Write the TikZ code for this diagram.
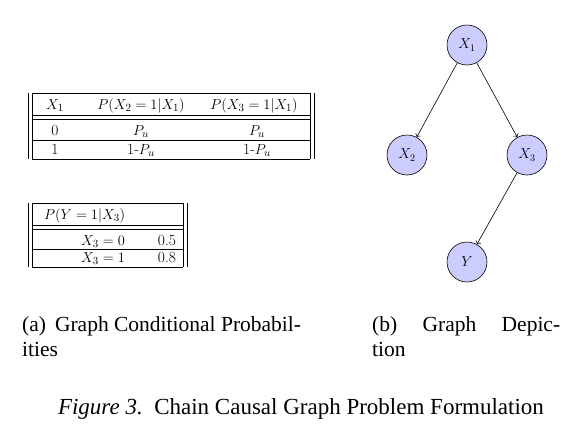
\documentclass[tikz,border=0pt]{standalone}
\usepackage{fontspec}
\newfontfamily\capfont{Liberation Serif}
\usetikzlibrary{arrows.meta}
\begin{document}
\begin{tikzpicture}[x=1pt,y=-1pt,
  tline/.style={line width=0.6pt},
  tcell/.style={inner sep=0pt, anchor=base, font=\fontsize{15.5}{18}\selectfont},
  gnode/.style={circle, draw, fill=blue!20, minimum size=40pt, inner sep=0pt, line width=0.6pt, font=\fontsize{14}{17}\selectfont},
  garrow/.style={-{To[length=3pt,width=6pt]}, line width=0.6pt},
  captext/.style={inner sep=0pt, font=\capfont\fontsize{21.5}{25}\selectfont},
  figcap/.style={inner sep=0pt, font=\capfont\fontsize{23}{27}\selectfont}
]
\useasboundingbox (0,0) rectangle (574,426);

% ---- table 1 ----
\draw[tline] (28,93) -- (28,159) (32,93) -- (32,159) (310,93) -- (310,159) (314,93) -- (314,159);
\draw[tline] (32,93) -- (310,93) (32,115) -- (310,115) (32,119) -- (310,119) (32,140) -- (310,140) (32,159) -- (310,159);
\node[tcell] (h1) at (55,109) {$X_1$};
\node[tcell] (h2) at (141,109) {$P(X_2 = 1|X_1)$};
\node[tcell] (h3) at (254,109) {$P(X_3 = 1|X_1)$};
\node[tcell] (a1) at (55,135) {0};
\node[tcell] (a2) at (141,135) {$P_u$};
\node[tcell] (a3) at (257,135) {$P_u$};
\node[tcell] (b1) at (55,154) {1};
\node[tcell] (b2) at (141,154) {1-$P_u$};
\node[tcell] (b3) at (257,154) {1-$P_u$};

% ---- table 2 ----
\draw[tline] (28,203) -- (28,267) (32,203) -- (32,267) (183,203) -- (183,267) (187,203) -- (187,267);
\draw[tline] (32,203) -- (183,203) (32,225) -- (183,225) (32,229) -- (183,229) (32,249) -- (183,249) (32,267) -- (183,267);
\node[tcell, anchor=base west] (yh) at (44,219) {$P(Y = 1|X_3)$};
\node[tcell] (c1) at (103,245) {$X_3 = 0$};
\node[tcell] (c2) at (167,245) {0.5};
\node[tcell] (d1) at (103,262) {$X_3 = 1$};
\node[tcell] (d2) at (167,262) {0.8};

% ---- graph ----
\node[gnode] (x1) at (467,45) {$X_1$};
\node[gnode] (x2) at (407,155) {$X_2$};
\node[gnode] (x3) at (527,155) {$X_3$};
\node[gnode] (y) at (467,262) {$Y$};
\draw[garrow] (x1) -- (x2);
\draw[garrow] (x1) -- (x3);
\draw[garrow] (x3) -- (y);

% ---- captions ----
\node[captext, anchor=base west] (ca1) at (22,331) {(a)\hspace{9pt}Graph Conditional Probabil-};
\node[captext, anchor=base west] (ca2) at (22,356) {ities};
\node[captext, anchor=base west] (cb1) at (372,331) {\makebox[188pt][s]{(b) Graph Depic-}};
\node[captext, anchor=base west] (cb2) at (372,356) {tion};
\node[figcap, anchor=base] (fig) at (301,414) {\textit{Figure 3.}\ \ Chain Causal Graph Problem Formulation};
\end{tikzpicture}
\end{document}
